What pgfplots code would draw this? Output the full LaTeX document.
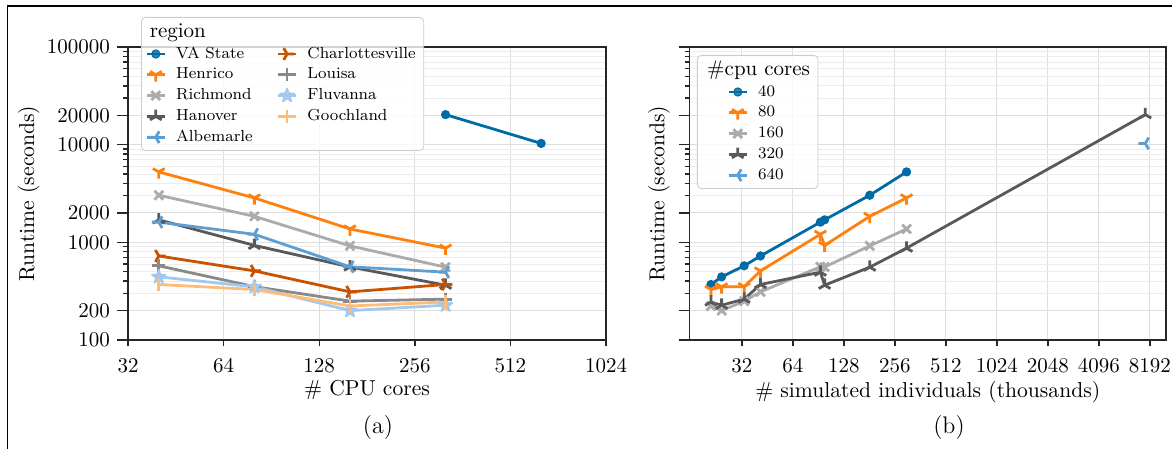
\documentclass[border=0pt]{standalone}
\usepackage{pgfplots}
\pgfplotsset{compat=1.18}
\definecolor{c0}{HTML}{006BA4}
\definecolor{c1}{HTML}{FF800E}
\definecolor{c2}{HTML}{ABABAB}
\definecolor{c3}{HTML}{595959}
\definecolor{c4}{HTML}{5F9ED1}
\definecolor{c5}{HTML}{C85200}
\definecolor{c6}{HTML}{898989}
\definecolor{c7}{HTML}{A2C8EC}
\definecolor{c8}{HTML}{FFBC79}

\pgfdeclareplotmark{tridown}{%
 \pgfpathmoveto{\pgfqpoint{0pt}{0pt}}\pgfpathlineto{\pgfqpoint{0pt}{-\pgfplotmarksize}}%
 \pgfpathmoveto{\pgfqpoint{0pt}{0pt}}\pgfpathlineto{\pgfqpoint{-0.866\pgfplotmarksize}{0.5\pgfplotmarksize}}%
 \pgfpathmoveto{\pgfqpoint{0pt}{0pt}}\pgfpathlineto{\pgfqpoint{0.866\pgfplotmarksize}{0.5\pgfplotmarksize}}%
 \pgfusepathqstroke}
\pgfdeclareplotmark{triup}{%
 \pgfpathmoveto{\pgfqpoint{0pt}{0pt}}\pgfpathlineto{\pgfqpoint{0pt}{\pgfplotmarksize}}%
 \pgfpathmoveto{\pgfqpoint{0pt}{0pt}}\pgfpathlineto{\pgfqpoint{-0.866\pgfplotmarksize}{-0.5\pgfplotmarksize}}%
 \pgfpathmoveto{\pgfqpoint{0pt}{0pt}}\pgfpathlineto{\pgfqpoint{0.866\pgfplotmarksize}{-0.5\pgfplotmarksize}}%
 \pgfusepathqstroke}
\pgfdeclareplotmark{trileft}{%
 \pgfpathmoveto{\pgfqpoint{0pt}{0pt}}\pgfpathlineto{\pgfqpoint{-\pgfplotmarksize}{0pt}}%
 \pgfpathmoveto{\pgfqpoint{0pt}{0pt}}\pgfpathlineto{\pgfqpoint{0.5\pgfplotmarksize}{0.866\pgfplotmarksize}}%
 \pgfpathmoveto{\pgfqpoint{0pt}{0pt}}\pgfpathlineto{\pgfqpoint{0.5\pgfplotmarksize}{-0.866\pgfplotmarksize}}%
 \pgfusepathqstroke}
\pgfdeclareplotmark{triright}{%
 \pgfpathmoveto{\pgfqpoint{0pt}{0pt}}\pgfpathlineto{\pgfqpoint{\pgfplotmarksize}{0pt}}%
 \pgfpathmoveto{\pgfqpoint{0pt}{0pt}}\pgfpathlineto{\pgfqpoint{-0.5\pgfplotmarksize}{0.866\pgfplotmarksize}}%
 \pgfpathmoveto{\pgfqpoint{0pt}{0pt}}\pgfpathlineto{\pgfqpoint{-0.5\pgfplotmarksize}{-0.866\pgfplotmarksize}}%
 \pgfusepathqstroke}
\pgfdeclareplotmark{fstar}{%
 \pgfpathmoveto{\pgfqpoint{0pt}{\pgfplotmarksize}}%
 \pgfpathlineto{\pgfqpoint{-0.235\pgfplotmarksize}{0.324\pgfplotmarksize}}%
 \pgfpathlineto{\pgfqpoint{-0.951\pgfplotmarksize}{0.309\pgfplotmarksize}}%
 \pgfpathlineto{\pgfqpoint{-0.380\pgfplotmarksize}{-0.124\pgfplotmarksize}}%
 \pgfpathlineto{\pgfqpoint{-0.588\pgfplotmarksize}{-0.809\pgfplotmarksize}}%
 \pgfpathlineto{\pgfqpoint{0pt}{-0.4\pgfplotmarksize}}%
 \pgfpathlineto{\pgfqpoint{0.588\pgfplotmarksize}{-0.809\pgfplotmarksize}}%
 \pgfpathlineto{\pgfqpoint{0.380\pgfplotmarksize}{-0.124\pgfplotmarksize}}%
 \pgfpathlineto{\pgfqpoint{0.951\pgfplotmarksize}{0.309\pgfplotmarksize}}%
 \pgfpathlineto{\pgfqpoint{0.235\pgfplotmarksize}{0.324\pgfplotmarksize}}%
 \pgfpathclose\pgfusepathqfillstroke}

\tikzset{
  sVA/.style={c0, mark=*, mark size=2pt, mark options={solid, fill=c0, line width=0.6pt}},
  sHe/.style={c1, mark=tridown, mark size=3.4pt},
  sRi/.style={c2, mark=x, mark size=3.1pt},
  sHa/.style={c3, mark=triup, mark size=3.4pt},
  sAl/.style={c4, mark=trileft, mark size=3.4pt},
  sCh/.style={c5, mark=triright, mark size=3.4pt},
  sLo/.style={c6, mark=+, mark size=3.3pt},
  sFl/.style={c7, mark=fstar, mark size=3.6pt, mark options={solid, fill=c7, line width=0.8pt}},
  sGo/.style={c8, mark=|, mark size=3.3pt},
}

\begin{document}
\begin{tikzpicture}
\useasboundingbox (-64pt,-54.5pt) rectangle (522pt,170pt);

% ---------------- (a) ----------------
\begin{axis}[
  scale only axis, anchor=south west, at={(0pt,0pt)},
  width=239pt, height=146.5pt,
  xmode=log, ymode=log, log basis x=2,
  xmin=32, xmax=1024, ymin=100, ymax=100000,
  xtick={32,64,128,256,512,1024}, xticklabels={32,64,128,256,512,1024},
  ytick={100,200,1000,2000,10000,20000,100000},
  yticklabels={100,200,1000,2000,10000,20000,100000},
  minor ytick={300,400,500,600,700,800,900,3000,4000,5000,6000,7000,8000,9000,30000,40000,50000,60000,70000,80000,90000},
  tick align=outside, xtick pos=left, ytick pos=left,
  major tick length=5.5pt, minor tick length=2.5pt,
  xtick style={/pgfplots/major tick length=3.2pt},
  grid=both,
  major grid style={line width=0.5pt, draw=black!13},
  minor grid style={line width=0.4pt, draw=black!7},
  axis line style={line width=0.7pt, draw=black!85},
  tick style={line width=0.7pt, black!85},
  tick label style={font=\fontsize{10.5}{12}\selectfont},
  label style={font=\fontsize{10.8}{13}\selectfont},
  every axis plot/.append style={line width=1.4pt, line join=round},
  xlabel={\# CPU cores}, ylabel={Runtime (seconds)},
  xlabel style={at={(axis description cs:0.5,-0.1706)}, anchor=center},
  ylabel style={at={(axis description cs:-0.2075,0.5)}, anchor=center},
  legend cell align=left, legend columns=2,
  legend style={at={(axis description cs:0.0272,1.1024)}, anchor=north west,
    draw=black!20, rounded corners=2pt, fill=white,
    fill opacity=0.8, text opacity=1, font=\footnotesize, inner xsep=2pt, inner ysep=2pt,
    nodes={inner ysep=1pt, inner xsep=2pt, text height=5.8pt, text depth=1.6pt},
    row sep=1pt,
    /tikz/every odd column/.append style={column sep=3pt},
    /tikz/every even column/.append style={column sep=10pt}},
  legend image code/.code={\draw[mark repeat=2,mark phase=2] plot coordinates {(0pt,0pt) (4.5pt,0pt) (9pt,0pt)};},
]
\addplot[sVA, forget plot] coordinates {(320,20300) (640,10300)};
\addplot[sHe, forget plot] coordinates {(40,5260) (80,2850) (160,1370) (320,872)};
\addplot[sRi, forget plot] coordinates {(40,3035) (80,1845) (160,920) (320,557)};
\addplot[sHa, forget plot] coordinates {(40,1700) (80,930) (160,560) (320,364)};
\addplot[sAl, forget plot] coordinates {(40,1610) (80,1208) (160,562) (320,495)};
\addplot[sCh, forget plot] coordinates {(40,725) (80,510) (160,311) (320,370)};
\addplot[sLo, forget plot] coordinates {(40,575) (80,352) (160,250) (320,262)};
\addplot[sFl, forget plot] coordinates {(40,443) (80,350) (160,200) (320,227)};
\addplot[sGo, forget plot] coordinates {(40,370) (80,329) (160,223) (320,245)};

\addlegendimage{empty legend}\addlegendentry[font=\fontsize{10.5}{12}\selectfont, text height=7pt]{\hspace*{-13.2pt}region}
\addlegendimage{empty legend}\addlegendentry{}
\addlegendimage{sVA, line width=1.4pt}\addlegendentry{VA State}
\addlegendimage{sCh, line width=1.4pt}\addlegendentry{Charlottesville}
\addlegendimage{sHe, line width=1.4pt}\addlegendentry{Henrico}
\addlegendimage{sLo, line width=1.4pt}\addlegendentry{Louisa}
\addlegendimage{sRi, line width=1.4pt}\addlegendentry{Richmond}
\addlegendimage{sFl, line width=1.4pt}\addlegendentry{Fluvanna}
\addlegendimage{sHa, line width=1.4pt}\addlegendentry{Hanover}
\addlegendimage{sGo, line width=1.4pt}\addlegendentry{Goochland}
\addlegendimage{sAl, line width=1.4pt}\addlegendentry{Albemarle}
\end{axis}

% ---------------- (b) ----------------
\begin{axis}[
  scale only axis, anchor=south west, at={(280.75pt,0pt)},
  width=238.25pt, height=146.5pt,
  xmode=log, ymode=log, log basis x=2,
  xmin=15.7, xmax=10200, ymin=100, ymax=100000,
  xtick={32,64,128,256,512,1024,2048,4096,8192},
  xticklabels={32,64,128,256,512,1024,2048,4096,8192},
  ytick={100,200,1000,2000,10000,20000,100000},
  yticklabels={},
  minor ytick={300,400,500,600,700,800,900,3000,4000,5000,6000,7000,8000,9000,30000,40000,50000,60000,70000,80000,90000},
  tick align=outside, xtick pos=left, ytick pos=left,
  major tick length=5.5pt, minor tick length=2.5pt,
  xtick style={/pgfplots/major tick length=3.2pt},
  grid=both,
  major grid style={line width=0.5pt, draw=black!13},
  minor grid style={line width=0.4pt, draw=black!7},
  axis line style={line width=0.7pt, draw=black!85},
  tick style={line width=0.7pt, black!85},
  tick label style={font=\fontsize{10.5}{12}\selectfont},
  label style={font=\fontsize{10.8}{13}\selectfont},
  every axis plot/.append style={line width=1.4pt, line join=round},
  xlabel={\# simulated individuals (thousands)}, ylabel={Runtime (seconds)},
  xlabel style={at={(axis description cs:0.5,-0.1775)}, anchor=center},
  ylabel style={at={(axis description cs:-0.064,0.5)}, anchor=center},
  legend cell align=left, legend columns=1,
  legend style={at={(axis description cs:0.0157,0.9727)}, anchor=north west,
    draw=black!20, rounded corners=2pt, fill=white,
    fill opacity=0.8, text opacity=1, font=\footnotesize, inner xsep=2pt, inner ysep=2pt,
    nodes={inner ysep=1pt, inner xsep=2pt, text height=5.8pt, text depth=1.6pt},
    row sep=1pt,
    /tikz/every odd column/.append style={column sep=3pt}},
  legend image code/.code={\path (-13pt,0pt); \draw[mark repeat=2,mark phase=2] plot coordinates {(0pt,0pt) (4.5pt,0pt) (9pt,0pt)};},
]
\addplot[sVA, forget plot] coordinates {(21.0,370) (24.3,443) (33.0,575) (41.2,725) (93,1610) (98.5,1700) (182,3035) (300,5260)};
\addplot[sHe, forget plot] coordinates {(21.0,329) (24.3,350) (33.0,352) (41.2,510) (93,1208) (98.5,930) (182,1845) (300,2850)};
\addplot[sRi, forget plot] coordinates {(21.0,223) (24.3,200) (33.0,250) (41.2,311) (93,562) (98.5,560) (182,920) (300,1370)};
\addplot[sHa, forget plot] coordinates {(21.0,245) (24.3,227) (33.0,262) (41.2,370) (93,495) (98.5,364) (182,557) (300,872) (7700,20300)};
\addplot[sAl, forget plot] coordinates {(7700,10300)};

\addlegendimage{empty legend}\addlegendentry[font=\fontsize{10.5}{12}\selectfont, text height=7pt]{\hspace*{-25.5pt}\#cpu cores}
\addlegendimage{sVA, line width=1.4pt}\addlegendentry{40}
\addlegendimage{sHe, line width=1.4pt}\addlegendentry{80}
\addlegendimage{sRi, line width=1.4pt}\addlegendentry{160}
\addlegendimage{sHa, line width=1.4pt}\addlegendentry{320}
\addlegendimage{sAl, line width=1.4pt}\addlegendentry{640}
\end{axis}

\node at (125pt,-44pt) {\large (a)};
\node at (410.5pt,-44pt) {\large (b)};
\draw[line width=0.8pt] (-60.25pt,-54.5pt) -- (-60.25pt,167pt) -- (522pt,167pt);
\end{tikzpicture}
\end{document}
